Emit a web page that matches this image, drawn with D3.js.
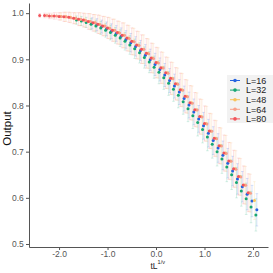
<!DOCTYPE html>
<html>
<head>
<meta charset="utf-8">
<script src="https://cdn.jsdelivr.net/npm/d3@7"></script>
<style>
  body { margin: 0; background: #fff; }
  svg { display: block; font-family: "Liberation Sans", Arial, sans-serif; }
  .axis path, .axis line { stroke: #555; }
  .axis text { fill: #555; font-size: 8.5px; }
</style>
</head>
<body>
<div id="chart"></div>
<script>
// x grid (tL^{1/nu}) shared by all series
const xs = [-2.4,-2.3,-2.2,-2.1,-2.0,-1.9,-1.8,-1.7,-1.6,-1.5,
            -1.4,-1.3,-1.2,-1.1,-1.0,-0.9,-0.8,-0.7,-0.6,-0.5,
            -0.4,-0.3,-0.2,-0.1,0.0,0.1,0.2,0.3,0.4,0.5,
            0.6,0.7,0.8,0.9,1.0,1.1,1.2,1.3,1.4,1.5,
            1.6,1.7,1.8,1.9,2.0,2.1];

const labels = ["L=16", "L=32", "L=48", "L=64", "L=80"];
const colors = ["#2563e0", "#17a673", "#f7c35c", "#f8a08a", "#f2545b"];
const xShift = [-0.02, -0.04, 0.03, 0.05, 0];

const y16 = [null,null,null,null,null,null,null,null,null,null,
             null,0.978,0.975,0.971,0.966,0.961,0.956,0.950,0.943,0.936,
             0.928,0.919,0.909,0.899,0.889,0.878,0.866,0.854,0.842,0.829,
             0.815,0.801,0.786,0.771,0.756,0.740,0.724,0.708,0.692,0.675,
             0.658,0.641,0.624,0.608,0.593,0.574];
const y32 = [null,null,null,null,null,null,null,null,0.985,0.983,
             0.980,0.976,0.972,0.968,0.963,0.958,0.952,0.946,0.939,0.931,
             0.923,0.914,0.904,0.894,0.883,0.872,0.860,0.848,0.835,0.822,
             0.808,0.793,0.778,0.763,0.748,0.732,0.716,0.700,0.684,0.667,
             0.650,0.633,0.615,0.598,0.580,0.563];
const y48 = [null,null,null,null,0.993,0.992,0.991,0.989,0.987,0.985,
             0.982,0.979,0.976,0.972,0.968,0.963,0.958,0.952,0.946,0.939,
             0.931,0.922,0.913,0.903,0.893,0.882,0.871,0.859,0.847,0.834,
             0.820,0.806,0.791,0.776,0.761,0.745,0.729,0.713,0.697,0.680,
             0.663,0.646,0.628,0.611,0.594,null];
const y64 = [null,0.995,0.994,0.994,0.993,0.992,0.990,0.989,0.987,0.984,
             0.982,0.979,0.975,0.972,0.967,0.963,0.957,0.952,0.945,0.938,
             0.930,0.922,0.912,0.902,0.892,0.881,0.870,0.858,0.846,0.833,
             0.819,0.805,0.790,0.775,0.760,0.744,0.728,0.712,0.696,0.679,
             0.662,0.645,0.627,0.610,null,null];
const y80 = [0.995,0.995,0.994,0.994,0.993,0.992,0.991,0.989,0.987,0.985,
             0.982,0.979,0.976,0.972,0.968,0.963,0.958,0.952,0.946,0.939,
             0.931,0.922,0.913,0.903,0.893,0.882,0.871,0.859,0.847,0.834,
             0.820,0.806,0.791,0.776,0.761,0.745,0.729,0.713,0.697,0.680,
             0.663,0.646,0.628,0.611,null,null];

// error bars (half widths)
const errBig = [0.004,0.005,0.006,0.007,0.008,0.010,0.011,0.012,0.014,0.015,
                0.017,0.018,0.020,0.021,0.023,0.024,0.025,0.027,0.028,0.029,
                0.030,0.031,0.032,0.032,0.033,0.034,0.034,0.035,0.035,0.036,
                0.036,0.037,0.037,0.038,0.038,0.038,0.039,0.039,0.039,0.040,
                0.040,0.040,0.041,0.041,0.041,0.042];
const errSmall = [0.003,0.003,0.004,0.004,0.005,0.006,0.007,0.008,0.009,0.010,
                  0.011,0.012,0.013,0.014,0.015,0.016,0.017,0.018,0.019,0.020,
                  0.021,0.022,0.023,0.023,0.024,0.025,0.025,0.026,0.026,0.027,
                  0.027,0.028,0.028,0.029,0.029,0.030,0.030,0.031,0.031,0.032,
                  0.032,0.033,0.033,0.034,0.034,0.035];

const yTicks = [0.5, 0.6, 0.7, 0.8, 0.9, 1.0];
const xTicks = [-2, -1, 0, 1, 2];

const seriesY = [y16, y32, y48, y64, y80];
const seriesErr = [errSmall, errSmall, errBig, errBig, errBig];

const widthSvg = 273, heightSvg = 273;
const margin = {top: 3, right: 5, bottom: 26, left: 29};
const width = widthSvg - margin.left - margin.right;
const height = heightSvg - margin.top - margin.bottom;

const svg = d3.select("#chart").append("svg")
    .attr("width", widthSvg)
    .attr("height", heightSvg);

const x = d3.scaleLinear().domain([-2.62, 2.31]).range([0, width]);
const y = d3.scaleLinear().domain([0.4935, 1.022]).range([height, 0]);

const g = svg.append("g")
    .attr("transform", "translate(" + margin.left + "," + margin.top + ")");

g.append("g")
    .attr("class", "axis")
    .attr("transform", "translate(0," + height + ")")
    .call(d3.axisBottom(x).tickValues(xTicks).tickSize(3).tickSizeOuter(0)
      .tickFormat(d => d3.format(".1f")(d).replace("−", "-")))
    .call(a => a.selectAll("text").attr("dy", "0.45em"));

g.append("g")
    .attr("class", "axis")
    .call(d3.axisLeft(y).tickValues(yTicks).tickSize(3).tickSizeOuter(0)
      .tickFormat(d3.format(".1f")))
    .call(a => a.selectAll("text").attr("dx", "0.1em"));

// build point table per series
const data = labels.map((lab, k) => ({
  label: lab,
  color: colors[k],
  points: xs.map((xv, i) => ({x: xv + xShift[k], y: seriesY[k][i], e: seriesErr[k][i]}))
            .filter(p => p.y !== null)
}));

// error bars first
data.forEach(s => {
  const eg = g.append("g")
      .attr("stroke", s.color)
      .attr("stroke-opacity", 0.22)
      .attr("stroke-width", 0.8);
  eg.selectAll("line.v").data(s.points).enter().append("line")
    .attr("x1", d => x(d.x)).attr("x2", d => x(d.x))
    .attr("y1", d => y(d.y - d.e)).attr("y2", d => y(d.y + d.e));
  eg.selectAll("line.t").data(s.points).enter().append("line")
    .attr("x1", d => x(d.x) - 1.3).attr("x2", d => x(d.x) + 1.3)
    .attr("y1", d => y(d.y + d.e)).attr("y2", d => y(d.y + d.e));
  eg.selectAll("line.b").data(s.points).enter().append("line")
    .attr("x1", d => x(d.x) - 1.3).attr("x2", d => x(d.x) + 1.3)
    .attr("y1", d => y(d.y - d.e)).attr("y2", d => y(d.y - d.e));
});

data.forEach(s => {
  g.append("g").selectAll("circle").data(s.points).enter().append("circle")
    .attr("cx", d => x(d.x))
    .attr("cy", d => y(d.y))
    .attr("r", 1.5)
    .attr("fill", s.color);
});

// axis titles
svg.append("text")
    .attr("transform", "translate(11,128.5) rotate(-90)")
    .attr("text-anchor", "middle")
    .attr("font-size", 11.5)
    .attr("fill", "#111")
    .text("Output");

const xt = svg.append("text")
    .attr("x", 150.5)
    .attr("y", 268.5)
    .attr("font-size", 8.5)
    .attr("fill", "#222");
xt.append("tspan").text("tL");
xt.append("tspan").attr("dy", -4.5).attr("font-size", 5.5).text("1/ν");

// legend
const leg = svg.append("g").attr("transform", "translate(227,75)");
leg.append("rect")
    .attr("width", 46).attr("height", 48)
    .attr("fill", "#f2f2f2");
data.forEach((s, i) => {
  const row = leg.append("g").attr("transform", "translate(0," + (5.5 + i * 9.6) + ")");
  row.append("line").attr("x1", 3).attr("x2", 13)
    .attr("stroke", s.color).attr("stroke-width", 1);
  row.append("circle").attr("cx", 8).attr("r", 1.8).attr("fill", s.color);
  row.append("text").attr("x", 19).attr("y", 3.3)
    .attr("font-size", 9).attr("fill", "#222").text(s.label);
});
</script>
</body>
</html>
